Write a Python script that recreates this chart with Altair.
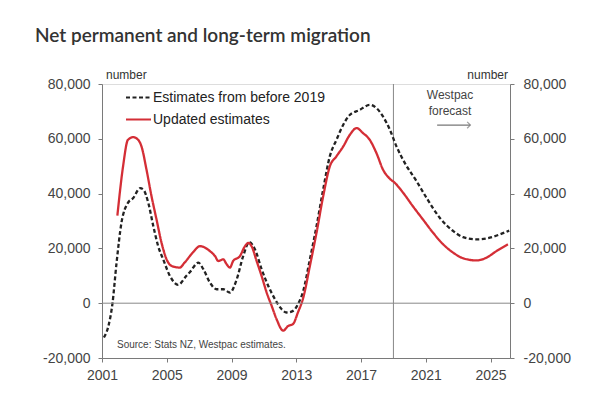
import altair as alt
import pandas as pd

# Updated estimates (red)
upd_years = [2001.95, 2002.3, 2002.6, 2002.93, 2003.24, 2003.44, 2003.75, 2004.06, 2004.37, 2004.68,
             2004.99, 2005.3, 2005.8, 2006.1, 2006.6, 2007.05, 2007.67, 2007.98, 2008.18, 2008.49,
             2008.7, 2008.9, 2009.1, 2009.52, 2009.83, 2010.03, 2010.24, 2010.55, 2010.86, 2011.17,
             2011.48, 2011.78, 2012.19, 2012.5, 2012.8, 2013.1, 2013.43, 2013.84, 2014.25, 2014.66,
             2015.07, 2015.48, 2015.9, 2016.3, 2016.72, 2017.12, 2017.54, 2017.95, 2018.36, 2018.78,
             2019.09, 2019.6, 2020.2, 2020.83, 2021.45, 2022.07, 2022.7, 2023.3, 2024.13, 2024.74,
             2025.36, 2026.07]
upd_values = [32000, 49900, 59600, 60600, 59600, 57200, 48700, 39000, 30500, 22000,
              16000, 13600, 13000, 14800, 18400, 20800, 19000, 17200, 15400, 16000,
              14200, 13000, 15400, 17200, 20800, 22000, 20800, 15400, 9900, 3900,
              -1000, -5800, -10000, -8300, -7600, -3400, 2000, 13600, 25700, 39000,
              49900, 53600, 57200, 61400, 63900, 62100, 59600, 54800, 48700, 45400,
              43900, 40300, 35400, 30500, 25700, 21500, 18400, 16400, 15600, 16600,
              19000, 21500]

# Estimates from before 2019 (black dashed)
pre_years = [2001.12, 2001.4, 2001.64, 2001.9, 2002.2, 2002.6, 2002.93, 2003.35, 2003.55, 2003.86,
             2004.17, 2004.47, 2004.78, 2005.2, 2005.7, 2006.2, 2006.45, 2006.95, 2007.26, 2007.67,
             2008.08, 2008.49, 2008.9, 2009.32, 2009.72, 2010.1, 2010.45, 2010.86, 2011.27, 2011.68,
             2012.1, 2012.4, 2012.8, 2013.1, 2013.43, 2013.84, 2014.25, 2014.66, 2015.07, 2015.48,
             2015.9, 2016.3, 2016.9, 2017.54, 2017.95, 2018.36, 2018.78, 2019.19, 2019.7, 2020.43,
             2021.05, 2021.86, 2022.7, 2023.3, 2024.13, 2024.95, 2025.57, 2026.15]
pre_values = [-12500, -8250, -400, 14800, 29300, 36600, 38400, 42000, 41500, 36600,
              28100, 20800, 16000, 9900, 6700, 9900, 11500, 14800, 12400, 7500,
              5100, 5100, 3900, 8700, 17200, 22300, 19600, 12400, 6300, 1500,
              -2200, -3400, -2800, -400, 4500, 16000, 28100, 41500, 53600, 59600,
              65100, 68700, 70500, 72400, 71200, 68100, 63300, 57200, 51200, 44500,
              38400, 31200, 26300, 24100, 23300, 23900, 25100, 26500]

series_names = ["Estimates from before 2019", "Updated estimates"]
series_colors = ["#222222", "#d42e36"]
y_ticks = [-20000, 0, 20000, 40000, 60000, 80000]
x_ticks = list(range(2001, 2027))
forecast_start = 2019
arrow_years = [2021.7, 2023.75]
arrow_value = 65000

rows = [{"year": y, "value": v, "series": series_names[0]} for y, v in zip(pre_years, pre_values)]
rows += [{"year": y, "value": v, "series": series_names[1]} for y, v in zip(upd_years, upd_values)]
df = pd.DataFrame(rows)

FONT = "Liberation Sans"
AX = "#7a7a7a"
xscale = alt.Scale(domain=[2001, 2026.2], nice=False, zero=False)
yscale = alt.Scale(domain=[-20000, 80000], nice=False, zero=False)
ylabel = "replace(format(datum.value, ','), '\u2212', '-')"

xaxis = alt.Axis(values=x_ticks, labelExpr="(datum.value - 2001) % 4 == 0 ? '' + datum.value : ''",
                 title=None, grid=False, tickSize=4, labelPadding=6, labelFontSize=14,
                 labelFont=FONT, labelColor="#444", domainColor=AX, tickColor=AX,
                 labelFlush=False, labelBound=False, labelOverlap=False)

legend = alt.Legend(orient="none", legendX=23, legendY=0, title=None,
                    symbolType="stroke", symbolSize=625, symbolStrokeWidth=2,
                    labelFontSize=14, labelFont=FONT, labelColor="#222", labelLimit=0,
                    labelOffset=1, rowPadding=1, padding=0)

lines = alt.Chart(df).mark_line(interpolate="monotone", strokeWidth=2.3).encode(
    x=alt.X("year:Q", scale=xscale, axis=xaxis),
    y=alt.Y("value:Q", scale=yscale,
            axis=alt.Axis(values=y_ticks, labelExpr=ylabel, title=None, grid=False, tickSize=4,
                          labelPadding=8, labelFontSize=14, labelFont=FONT, labelColor="#444",
                          domainColor=AX, tickColor=AX, orient="left")),
    color=alt.Color("series:N", scale=alt.Scale(domain=series_names, range=series_colors), legend=legend),
    strokeDash=alt.StrokeDash("series:N", scale=alt.Scale(domain=series_names, range=[[4, 2.5], [1, 0]]),
                              legend=legend),
)

zero = alt.Chart(pd.DataFrame({"v": [0]})).mark_rule(color="#888", strokeWidth=1).encode(
    y=alt.Y("v:Q", scale=yscale,
            axis=alt.Axis(values=y_ticks, labelExpr=ylabel, title=None, grid=False, tickSize=4,
                          labelPadding=9, labelFontSize=14, labelFont=FONT, labelColor="#444",
                          domainColor=AX, tickColor=AX, orient="right")))

vline = alt.Chart(pd.DataFrame({"x": [forecast_start]})).mark_rule(color="#888", strokeWidth=1).encode(
    x=alt.X("x:Q", scale=xscale))

arrow_df = pd.DataFrame({"x": [arrow_years[0]], "x2": [arrow_years[1]], "y": [arrow_value]})
arrow = alt.Chart(arrow_df).mark_rule(color="#777", strokeWidth=1.2).encode(
    x=alt.X("x:Q", scale=xscale), x2="x2:Q", y=alt.Y("y:Q", scale=yscale, axis=None))
head = alt.Chart(pd.DataFrame({"x": [arrow_years[1]], "y": [arrow_value]})).mark_point(
    shape="M-1,-1L0,0L-1,1", size=40, filled=False, color="#777", strokeWidth=1.2).encode(
    x=alt.X("x:Q", scale=xscale), y=alt.Y("y:Q", scale=yscale, axis=None))

def label(text, x, y, size=12, align="left", weight="normal", font=FONT, color="#333"):
    return alt.Chart(pd.DataFrame({"t": [text]})).mark_text(
        align=align, baseline="alphabetic", fontSize=size, fontWeight=weight, font=font, color=color,
        lineHeight=16).encode(x=alt.value(x), y=alt.value(y), text="t:N")

title = label("Net permanent and long-term migration", -67, -42, size=19, weight=600,
              font="Lato", color="#333")
num_l = label("number", 4, -5, size=12)
num_r = label("number", 406, -5, size=12, align="right")
source = label("Source: Stats NZ, Westpac estimates.", 15, 264, size=10, color="#444")
fc1 = label("Westpac", 348, 15, size=12, align="center", color="#444")
fc2 = label("forecast", 348, 31, size=12, align="center", color="#444")

chart = alt.layer(vline, lines, zero, arrow, head, title, num_l, num_r, source, fc1, fc2).resolve_scale(
    y="independent").properties(
    width=408, height=274, autosize=alt.AutoSizeParams(type="none"),
    padding={"left": 94, "top": 76, "right": 82, "bottom": 38},
).configure_view(stroke=None).configure(background="white")

chart.save("out.html", embed_options={"renderer": "svg", "actions": False})
